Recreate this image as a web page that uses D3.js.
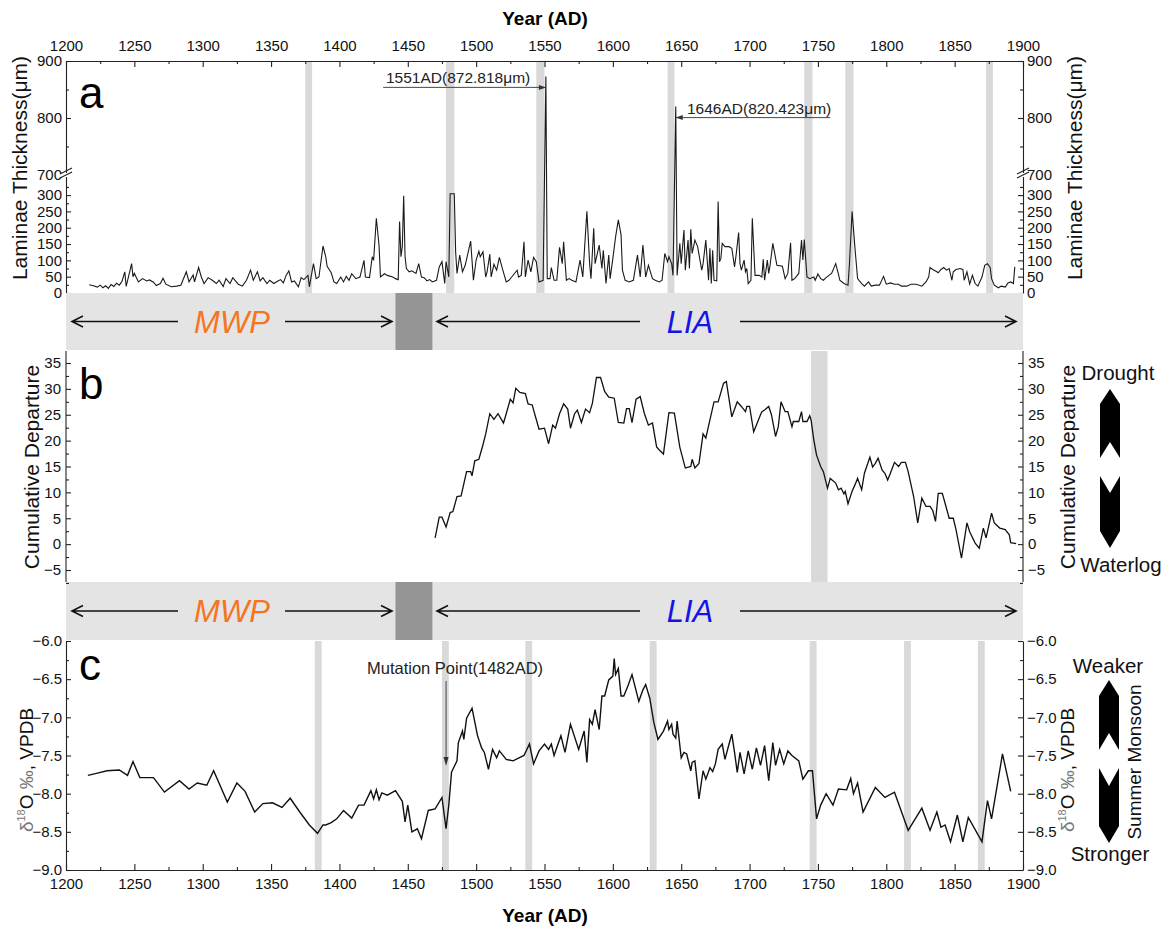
<!DOCTYPE html>
<html>
<head>
<meta charset="utf-8">
<script src="https://cdn.jsdelivr.net/npm/d3@7"></script>
<style>
  body { margin: 0; background: #fff; }
  text { font-family: Arial, "Liberation Sans", sans-serif; }
</style>
</head>
<body>
<div id="chart"></div>
<script>

// ---- data ----
// (a) laminae thickness, um  [year, value]
var laminaeData = [
  [1217,25],[1220,22],[1223,18],[1225,24],[1227,16],[1229,22],[1231,14],[1233,26],[1235,20],[1237,30],[1239,24],[1241,36],
  [1243,65],[1244,20],[1246,55],[1248,90],[1249,50],[1250,60],[1253,34],[1256,44],[1259,37],[1261,40],[1264,33],[1266,23],
  [1269,29],[1271,45],[1273,27],[1277,19],[1281,21],[1284,24],[1288,65],[1290,34],[1293,55],[1294,34],[1297,78],[1299,49],
  [1301,29],[1304,47],[1307,39],[1310,29],[1312,39],[1315,20],[1317,44],[1320,29],[1322,47],[1326,27],[1329,21],[1332,39],
  [1335,70],[1337,39],[1340,65],[1342,37],[1344,47],[1347,29],[1349,39],[1352,29],[1355,37],[1357,41],[1359,31],[1361,54],
  [1363,68],[1365,34],[1367,37],[1370,19],[1372,47],[1374,41],[1377,54],[1378,19],[1381,90],[1383,44],[1385,49],[1388,144],
  [1390,111],[1391,82],[1394,62],[1396,34],[1398,29],[1401,49],[1403,34],[1405,51],[1407,39],[1409,59],[1412,44],[1415,49],
  [1418,100],[1419,49],[1422,47],[1424,111],[1425,100],[1427,229],[1429,144],[1430,49],[1433,59],[1435,54],[1439,49],[1441,44],
  [1443,41],[1444,219],[1445,111],[1446,142],[1447,298],[1448,111],[1449,75],[1451,65],[1453,68],[1456,60],[1458,90],[1460,49],
  [1462,47],[1464,37],[1466,41],[1468,34],[1471,39],[1473,80],[1475,96],[1477,29],[1478,96],[1480,49],[1481,304],[1484,304],
  [1485,126],[1486,60],[1488,116],[1490,65],[1492,85],[1496,159],[1498,39],[1500,101],[1502,128],[1503,111],[1505,126],[1507,49],
  [1508,65],[1510,119],[1511,49],[1513,88],[1515,70],[1517,109],[1519,78],[1522,34],[1524,39],[1526,49],[1530,70],[1531,49],
  [1533,54],[1535,157],[1536,49],[1538,101],[1540,65],[1542,109],[1544,96],[1546,34],[1549,39],[1551,873],[1552,44],[1554,44],
  [1555,78],[1557,39],[1559,39],[1561,140],[1563,90],[1564,157],[1566,39],[1568,44],[1570,39],[1573,34],[1576,101],[1578,49],
  [1581,250],[1583,90],[1584,44],[1586,198],[1587,90],[1590,147],[1592,75],[1593,131],[1595,29],[1597,116],[1598,44],[1600,106],
  [1602,172],[1604,224],[1606,178],[1607,70],[1609,39],[1612,34],[1615,39],[1618,116],[1620,49],[1622,147],[1624,49],[1626,85],
  [1629,44],[1631,39],[1634,34],[1636,39],[1638,121],[1640,96],[1641,111],[1643,90],[1644,54],[1646,820],[1647,54],[1649,152],
  [1650,90],[1652,193],[1653,70],[1655,162],[1656,75],[1657,195],[1658,121],[1660,162],[1662,142],[1665,70],[1666,90],[1668,162],
  [1670,39],[1671,137],[1672,29],[1673,131],[1674,39],[1676,37],[1677,280],[1678,96],[1679,106],[1680,152],[1682,142],[1685,142],
  [1687,137],[1689,80],[1690,111],[1692,185],[1693,90],[1694,70],[1696,101],[1697,65],[1698,75],[1699,29],[1701,39],[1702,229],
  [1704,54],[1707,54],[1709,49],[1710,103],[1711,39],[1713,101],[1714,60],[1715,85],[1717,152],[1720,85],[1724,82],[1726,44],
  [1728,60],[1730,154],[1731,39],[1733,44],[1736,60],[1738,162],[1739,101],[1740,164],[1742,49],[1744,44],[1747,49],[1748,39],
  [1750,58],[1752,44],[1754,39],[1756,47],[1758,54],[1760,60],[1763,90],[1765,58],[1766,39],[1769,29],[1772,24],[1773,85],
  [1775,250],[1777,142],[1779,44],[1782,29],[1784,21],[1787,34],[1789,21],[1792,24],[1795,24],[1798,51],[1800,27],[1803,31],
  [1806,27],[1809,27],[1811,21],[1815,21],[1818,27],[1822,27],[1826,21],[1829,34],[1831,49],[1832,78],[1834,72],[1837,65],
  [1838,62],[1840,72],[1842,78],[1844,70],[1846,75],[1848,39],[1849,65],[1851,72],[1854,75],[1856,72],[1857,39],[1859,65],
  [1861,27],[1863,54],[1865,29],[1867,21],[1870,49],[1872,85],[1874,90],[1876,78],[1877,44],[1879,24],[1882,16],[1884,21],
  [1887,18],[1889,31],[1891,34],[1893,29],[1894,80]
];

// (b) cumulative departure
var departureData = [
  [1470,1.2],[1473,5.2],[1475,5.2],[1478,3.3],[1481,6.1],[1483,6.3],[1486,9.2],[1489,9.3],[1493,14.0],[1496,14.0],[1497,13.2],
  [1499,16.1],[1502,16.4],[1505,19.2],[1507,21.3],[1510,25.2],[1513,24.1],[1516,25.2],[1520,23.4],[1522,25.2],[1525,28.0],
  [1527,27.3],[1529,30.1],[1532,29.3],[1536,29.1],[1538,27.1],[1541,26.9],[1543,25.0],[1546,22.2],[1550,22.4],[1553,19.4],
  [1556,23.0],[1558,22.4],[1561,25.2],[1564,27.1],[1567,26.1],[1569,22.4],[1572,25.2],[1574,25.9],[1577,23.5],[1580,26.1],
  [1583,25.4],[1585,27.2],[1588,32.2],[1591,32.2],[1594,29.5],[1597,28.4],[1601,28.2],[1604,23.5],[1608,23.4],[1610,26.2],
  [1612,26.2],[1614,23.5],[1617,28.0],[1620,28.5],[1623,25.3],[1626,23.0],[1629,23.4],[1632,18.8],[1634,18.2],[1637,17.4],
  [1641,25.4],[1645,25.3],[1649,18.7],[1653,14.7],[1657,15.0],[1658,16.4],[1660,14.7],[1663,15.6],[1666,21.3],[1668,20.5],
  [1671,24.0],[1674,27.5],[1677,27.5],[1681,31.1],[1683,31.4],[1687,24.6],[1691,27.5],[1694,26.6],[1697,25.6],[1698,26.6],
  [1700,26.6],[1703,21.7],[1705,23.0],[1708,25.0],[1709,25.6],[1711,25.9],[1714,26.6],[1716,25.0],[1719,20.8],[1721,22.7],
  [1723,27.5],[1726,25.6],[1728,25.6],[1731,22.7],[1732,23.7],[1736,23.7],[1738,25.6],[1739,23.7],[1742,23.7],[1744,24.8],
  [1745,24.0],[1747,20.1],[1749,17.2],[1752,15.0],[1754,14.0],[1757,10.8],[1759,12.7],[1763,11.8],[1765,10.5],[1767,10.8],
  [1769,9.7],[1770,10.2],[1772,7.8],[1775,10.2],[1777,11.4],[1779,12.7],[1782,10.5],[1784,13.7],[1788,16.8],[1790,14.9],
  [1792,15.6],[1794,16.6],[1797,14.3],[1799,13.7],[1801,12.4],[1803,13.7],[1806,15.8],[1809,15.0],[1811,15.8],[1814,15.8],
  [1816,14.0],[1820,9.2],[1823,4.1],[1826,8.9],[1829,7.3],[1832,7.3],[1834,6.5],[1836,4.4],[1838,9.8],[1841,9.8],[1843,7.9],
  [1846,5.0],[1849,5.0],[1851,2.8],[1855,-2.7],[1859,4.1],[1861,2.4],[1865,0.2],[1868,-0.8],[1871,3.1],[1873,1.2],[1877,6.0],
  [1879,4.1],[1883,3.1],[1887,2.8],[1890,1.8],[1891,0.3],[1895,0.1]
];

// (c) d18O, permil VPDB
var d18oData = [
  [1216,-7.76],[1223,-7.73],[1230,-7.70],[1239,-7.69],[1245,-7.76],[1249,-7.58],[1254,-7.79],[1264,-7.79],[1272,-7.98],
  [1283,-7.83],[1290,-7.94],[1296,-7.86],[1303,-7.89],[1308,-7.70],[1318,-8.11],[1325,-7.86],[1331,-7.97],[1338,-8.24],
  [1344,-8.13],[1351,-8.12],[1358,-8.18],[1364,-8.06],[1371,-8.24],[1378,-8.41],[1384,-8.52],[1388,-8.41],[1390,-8.41],
  [1394,-8.38],[1398,-8.33],[1403,-8.22],[1409,-8.32],[1414,-8.15],[1418,-8.15],[1423,-7.96],[1425,-8.07],[1427,-7.95],
  [1429,-8.08],[1431,-7.99],[1435,-8.02],[1441,-7.96],[1446,-8.10],[1448,-8.37],[1450,-8.15],[1453,-8.50],[1457,-8.46],
  [1460,-8.59],[1465,-8.22],[1470,-8.20],[1475,-8.05],[1478,-8.46],[1480,-8.15],[1482,-7.72],[1483,-7.68],[1486,-7.57],
  [1487,-7.33],[1490,-7.18],[1491,-7.29],[1493,-7.01],[1497,-6.88],[1501,-7.24],[1504,-7.40],[1506,-7.46],[1509,-7.68],
  [1512,-7.42],[1515,-7.53],[1517,-7.44],[1522,-7.55],[1527,-7.57],[1535,-7.50],[1539,-7.35],[1542,-7.61],[1546,-7.44],
  [1550,-7.35],[1553,-7.42],[1555,-7.35],[1557,-7.50],[1562,-7.24],[1565,-7.46],[1569,-7.09],[1575,-7.42],[1579,-7.18],
  [1581,-7.59],[1583,-7.03],[1585,-7.09],[1587,-6.90],[1590,-7.16],[1592,-6.72],[1594,-6.72],[1597,-6.51],[1600,-6.46],
  [1601,-6.23],[1602,-6.44],[1604,-6.36],[1606,-6.72],[1608,-6.72],[1611,-6.59],[1614,-6.44],[1619,-6.79],[1622,-6.64],
  [1624,-6.57],[1627,-6.75],[1630,-7.07],[1633,-7.29],[1637,-7.18],[1640,-7.05],[1641,-7.16],[1643,-7.09],[1644,-7.22],
  [1646,-7.27],[1647,-7.05],[1650,-7.53],[1652,-7.46],[1654,-7.48],[1657,-7.70],[1658,-7.59],[1660,-7.57],[1663,-8.07],
  [1666,-7.70],[1668,-7.81],[1671,-7.66],[1673,-7.71],[1675,-7.61],[1677,-7.42],[1680,-7.35],[1682,-7.55],[1685,-7.35],
  [1687,-7.22],[1689,-7.46],[1691,-7.72],[1693,-7.46],[1696,-7.74],[1699,-7.44],[1702,-7.68],[1705,-7.40],[1708,-7.63],
  [1711,-7.37],[1714,-7.83],[1717,-7.33],[1719,-7.63],[1722,-7.42],[1725,-7.61],[1728,-7.44],[1731,-7.50],[1736,-7.57],
  [1739,-7.81],[1743,-7.70],[1746,-7.70],[1749,-8.33],[1752,-8.15],[1756,-8.00],[1761,-8.15],[1765,-7.94],[1771,-7.95],
  [1774,-7.80],[1776,-8.00],[1779,-7.86],[1783,-8.24],[1792,-7.92],[1799,-8.05],[1806,-7.98],[1816,-8.48],[1826,-8.19],
  [1832,-8.48],[1837,-8.24],[1840,-8.44],[1843,-8.41],[1847,-8.63],[1852,-8.28],[1856,-8.63],[1860,-8.31],[1870,-8.63],
  [1874,-8.09],[1877,-8.33],[1885,-7.48],[1891,-7.97]
];

// highlighted years (grey stripes) per panel
var bandsA = [[1375,1380],[1478,1484],[1544,1550],[1640,1645],[1740,1746],[1770,1776],[1873,1878]];
var bandsB = [[1745,1757]];
var bandsC = [[1382,1387],[1475,1480],[1536,1541],[1627,1632],[1744,1749],[1813,1818],[1867,1872]];
var transition = [1441, 1468];

// tick labels
var yearTicks = [1200,1250,1300,1350,1400,1450,1500,1550,1600,1650,1700,1750,1800,1850,1900];
var laminaeLowTicks = [0,50,100,150,200,250,300];
var laminaeHighTicks = [700,800,900];
var departureTicks = [-5,0,5,10,15,20,25,30,35];
var d18oTicks = [-9.0,-8.5,-8.0,-7.5,-7.0,-6.5,-6.0];

// ---- frame ----
var svgWidth = 1165, svgHeight = 931;
var L = 66, R = 1023;
var pA = {top: 61, bottom: 293};
var pB = {top: 351, bottom: 582};
var pC = {top: 641, bottom: 870};
var tickFont = 15;

var svg = d3.select("#chart").append("svg")
  .attr("width", svgWidth)
  .attr("height", svgHeight);

var x = d3.scaleLinear().domain([1200, 1900]).range([L, R]);

var yLow = d3.scaleLinear().domain([0, 360]).range([pA.bottom, 175.5]);
var yHigh = d3.scaleLinear().domain([700, 900]).range([175, pA.top]);
function yA(v) { return v > 400 ? yHigh(v) : yLow(v); }

var yB = d3.scaleLinear().domain([-5, 35]).range([570, 363]);
var yC = d3.scaleLinear().domain([-9, -6]).range([pC.bottom, pC.top]);

// grey stripes
function addStripes(bands, top, bottom) {
  svg.append("g").selectAll("rect")
    .data(bands).enter().append("rect")
    .attr("x", d => x(d[0]))
    .attr("width", d => x(d[1]) - x(d[0]))
    .attr("y", top)
    .attr("height", bottom - top)
    .attr("fill", "#d9d9d9");
}
addStripes(bandsA, pA.top, pA.bottom);
addStripes(bandsB, pB.top, pB.bottom);
addStripes(bandsC, pC.top, pC.bottom);

// style an axis group
function styleAxis(g) {
  g.attr("font-size", tickFont)
   .attr("font-family", "Arial, 'Liberation Sans', sans-serif");
  g.selectAll("path,line").attr("stroke", "#222").attr("stroke-width", 1.1);
  g.selectAll("text").attr("fill", "#111");
  return g;
}

function addAxis(axis, tx, ty) {
  return svg.append("g")
    .attr("transform", `translate(${tx}, ${ty})`)
    .call(axis)
    .call(styleAxis);
}

function addMinor(axis, tx, ty) {
  var g = addAxis(axis.tickFormat("").tickSizeOuter(0), tx, ty);
  g.select(".domain").remove();
  return g;
}

// ---- panel a ----
addAxis(d3.axisTop(x).tickValues(yearTicks).tickFormat(d3.format("d")).tickSize(-6).tickSizeOuter(0).tickPadding(10), 0, pA.top);
addMinor(d3.axisTop(x).tickValues(d3.range(1225, 1900, 50)).tickSize(-3), 0, pA.top);

[[d3.axisLeft, L], [d3.axisRight, R]].forEach(function(s) {
  var mk = s[0], px = s[1];
  addAxis(mk(yLow).tickValues(laminaeLowTicks).tickSize(-5).tickSizeOuter(0).tickPadding(4), px, 0);
  addAxis(mk(yHigh).tickValues(laminaeHighTicks).tickSize(-5).tickSizeOuter(0).tickPadding(4), px, 0);
  addMinor(mk(yLow).tickValues(d3.range(25, 360, 50)).tickSize(-3), px, 0);
  addMinor(mk(yHigh).tickValues([750, 850]).tickSize(-3), px, 0);
  // axis break
  var br = svg.append("g");
  br.append("rect").attr("x", px - 6).attr("y", 173).attr("width", 12).attr("height", 4).attr("fill", "#fff");
  [0, 4].forEach(function(o) {
    br.append("line")
      .attr("x1", px - 6).attr("y1", 176 + o - 2)
      .attr("x2", px + 6).attr("y2", 170 + o - 2)
      .attr("stroke", "#222").attr("stroke-width", 1.1);
  });
});

var lineA = d3.line().x(d => x(d[0])).y(d => yA(d[1]));
svg.append("path")
  .datum(laminaeData)
  .attr("d", lineA)
  .attr("fill", "none")
  .attr("stroke", "#1a1a1a")
  .attr("stroke-width", 1.1);

// spike annotations
function annotate(label, year, value, fromYear, labelX, side) {
  var tipX = x(year), yy = yA(value) + 11;
  var g = svg.append("g");
  g.append("line")
    .attr("x1", x(fromYear)).attr("x2", tipX)
    .attr("y1", yy).attr("y2", yy)
    .attr("stroke", "#333").attr("stroke-width", 0.9);
  var s = side === "right" ? -1 : 1;
  g.append("path")
    .attr("d", `M${tipX},${yy}L${tipX + s * 7},${yy - 2.5}L${tipX + s * 7},${yy + 2.5}Z`)
    .attr("fill", "#333");
  g.append("text")
    .attr("x", labelX).attr("y", yy - 4)
    .attr("font-size", 15.5).attr("fill", "#222")
    .text(label);
}
annotate("1551AD(872.818\u03bcm)", 1551, 873, 1432, 386, "right");
annotate("1646AD(820.423\u03bcm)", 1646, 820, 1759, 687, "left");

// ---- period bands ----
function periodBand(top, bottom) {
  var mid = (top + bottom) / 2;
  var g = svg.append("g");
  g.append("rect").attr("x", L).attr("y", top).attr("width", R - L).attr("height", bottom - top).attr("fill", "#e4e4e4");
  g.append("rect").attr("x", x(transition[0])).attr("y", top)
    .attr("width", x(transition[1]) - x(transition[0])).attr("height", bottom - top).attr("fill", "#959595");
  var arrows = [[178, 72], [285, 392], [640, 437], [740, 1016]];
  arrows.forEach(function(a) {
    var s = a[1] > a[0] ? 1 : -1;
    g.append("path")
      .attr("d", `M${a[0]},${mid}H${a[1]}M${a[1] - s * 11},${mid - 5.5}L${a[1]},${mid}L${a[1] - s * 11},${mid + 5.5}`)
      .attr("fill", "none").attr("stroke", "#111").attr("stroke-width", 1.6);
  });
  g.append("text").attr("x", 232).attr("y", mid + 11).attr("text-anchor", "middle")
    .attr("font-size", 31).attr("font-style", "italic").attr("fill", "#f5751f").text("MWP");
  g.append("text").attr("x", 690).attr("y", mid + 11).attr("text-anchor", "middle")
    .attr("font-size", 31).attr("font-style", "italic").attr("fill", "#1414e6").text("LIA");
}
periodBand(pA.bottom, pB.top - 1);
periodBand(pB.bottom, pC.top - 1);

// ---- panel b ----
[[d3.axisLeft, L], [d3.axisRight, R]].forEach(function(s) {
  var g = addAxis(s[0](yB).tickValues(departureTicks).tickSize(-5).tickSizeOuter(0).tickPadding(5), s[1], 0);
  g.select(".domain").attr("d", `M0,${pB.top}V${pB.bottom}`);
  addMinor(s[0](yB).tickValues(d3.range(-7.5, 37, 5)).tickSize(-3), s[1], 0);
});

svg.append("path")
  .datum(departureData)
  .attr("d", d3.line().x(d => x(d[0])).y(d => yB(d[1])))
  .attr("fill", "none")
  .attr("stroke", "#111")
  .attr("stroke-width", 1.3);

// ---- panel c ----
addAxis(d3.axisBottom(x).tickValues(yearTicks).tickFormat(d3.format("d")).tickSize(-6).tickSizeOuter(0).tickPadding(8), 0, pC.bottom);
addMinor(d3.axisBottom(x).tickValues(d3.range(1225, 1900, 50)).tickSize(-3), 0, pC.bottom);
[[d3.axisLeft, L], [d3.axisRight, R]].forEach(function(s) {
  addAxis(s[0](yC).tickValues(d18oTicks).tickFormat(d3.format(".1f")).tickSize(-5).tickSizeOuter(0).tickPadding(4), s[1], 0);
  addMinor(s[0](yC).tickValues(d3.range(-8.75, -6, 0.5)).tickSize(-3), s[1], 0);
});

svg.append("path")
  .datum(d18oData)
  .attr("d", d3.line().x(d => x(d[0])).y(d => yC(d[1])))
  .attr("fill", "none")
  .attr("stroke", "#111")
  .attr("stroke-width", 1.4);

// mutation point arrow
var mx = x(1478);
svg.append("line").attr("x1", mx).attr("x2", mx).attr("y1", 681).attr("y2", 760)
  .attr("stroke", "#333").attr("stroke-width", 0.9);
svg.append("path").attr("d", `M${mx},766L${mx - 2.5},757L${mx + 2.5},757Z`).attr("fill", "#333");
svg.append("text").attr("x", 367).attr("y", 674).attr("font-size", 16.5).attr("fill", "#222")
  .text("Mutation Point(1482AD)");

// ---- titles and labels ----
svg.append("text").attr("x", 545).attr("y", 25).attr("text-anchor", "middle")
  .attr("font-size", 19).attr("font-weight", "bold").text("Year (AD)");
svg.append("text").attr("x", 545).attr("y", 922).attr("text-anchor", "middle")
  .attr("font-size", 19).attr("font-weight", "bold").text("Year (AD)");

[["a", 108], ["b", 399], ["c", 680]].forEach(function(p) {
  svg.append("text").attr("x", 79).attr("y", p[1]).attr("font-size", 44).text(p[0]);
});

function vLabel(cx, cy, size) {
  return svg.append("text")
    .attr("transform", `translate(${cx}, ${cy}) rotate(-90)`)
    .attr("text-anchor", "middle")
    .attr("font-size", size)
    .attr("fill", "#111");
}
vLabel(27, 168, 21).text("Laminae Thickness(\u03bcm)");
vLabel(1082, 168, 21).text("Laminae Thickness(\u03bcm)");
vLabel(39, 467, 21).text("Cumulative Departure");
vLabel(1075, 467, 21).text("Cumulative Departure");

[[33, 770], [1074, 770]].forEach(function(p) {
  var t = vLabel(p[0], p[1], 19);
  t.append("tspan").attr("fill", "#777").text("\u03b4");
  t.append("tspan").attr("fill", "#777").attr("font-size", 11).attr("dy", -8).text("18");
  t.append("tspan").attr("dy", 8).text("O ");
  t.append("tspan").attr("fill", "#777").text("\u2030");
  t.append("tspan").text(", VPDB");
});
vLabel(1141, 762, 19).text("Summer Monsoon");

function sideText(cx, y, s) {
  svg.append("text").attr("x", cx).attr("y", y).attr("text-anchor", "middle")
    .attr("font-size", 20.5).attr("fill", "#111").text(s);
}
sideText(1118, 380, "Drought");
sideText(1121, 572, "Waterlog");
sideText(1108, 673, "Weaker");
sideText(1110, 861, "Stronger");

// black direction arrows
function dirArrows(cx, tip, shoulder, corner, notch, corner2, notch2, shoulder2, tip2) {
  var w = 10;
  svg.append("path")
    .attr("d", `M${cx},${tip}L${cx + w},${shoulder}V${corner}L${cx},${notch}L${cx - w},${corner}V${shoulder}Z`)
    .attr("fill", "#000");
  svg.append("path")
    .attr("d", `M${cx - w},${corner2}L${cx},${notch2}L${cx + w},${corner2}V${shoulder2}L${cx},${tip2}L${cx - w},${shoulder2}Z`)
    .attr("fill", "#000");
}
dirArrows(1110, 389, 404, 458, 442, 476, 493, 531, 548);
dirArrows(1109, 680, 696, 750, 733, 768, 786, 826, 843);

</script>
</body>
</html>
